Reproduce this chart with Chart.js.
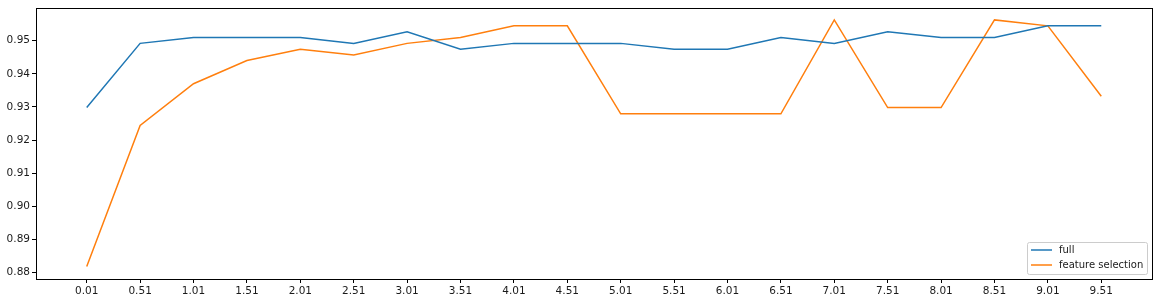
<!DOCTYPE html>
<html>
<head>
<meta charset="utf-8">
<script src="https://cdn.jsdelivr.net/npm/chart.js@4"></script>
<style>
  html, body { margin: 0; padding: 0; background: #fff; }
  #wrap { width: 1159px; height: 303px; }
</style>
</head>
<body>
<div id="wrap"><canvas id="chart" width="1159" height="303"></canvas></div>
<script>
const xLabels = ['0.01', '0.51', '1.01', '1.51', '2.01', '2.51', '3.01', '3.51', '4.01', '4.51',
    '5.01', '5.51', '6.01', '6.51', '7.01', '7.51', '8.01', '8.51', '9.01', '9.51'];
const fullScores = [0.9298, 0.9492, 0.9510, 0.9510, 0.9510, 0.9492, 0.9527, 0.9474, 0.9492, 0.9492,
    0.9492, 0.9474, 0.9474, 0.9510, 0.9492, 0.9527, 0.9510, 0.9510, 0.9545, 0.9545];
const selectionScores = [0.8818, 0.9244, 0.9370, 0.9440, 0.9474, 0.9457, 0.9492, 0.9510, 0.9545, 0.9545,
    0.9279, 0.9279, 0.9279, 0.9279, 0.9563, 0.9298, 0.9298, 0.9563, 0.9545, 0.9332];
const yTicks = [0.88, 0.89, 0.90, 0.91, 0.92, 0.93, 0.94, 0.95];

const font = { family: 'DejaVu Sans', size: 10.5 };

// matplotlib style legend, lower right inside the axes
const legendBox = {
    id: 'legendBox',
    afterDraw(chart) {
        const ctx = chart.ctx;
        const area = chart.chartArea;
        const w = 120, h = 32;
        const x = area.right - 5 - w;
        const y = area.bottom - 5 - h;
        ctx.save();
        ctx.beginPath();
        ctx.roundRect(x + 0.5, y + 0.5, w, h, 2);
        ctx.fillStyle = 'rgba(255,255,255,0.8)';
        ctx.fill();
        ctx.strokeStyle = '#cccccc';
        ctx.lineWidth = 1;
        ctx.stroke();
        ctx.font = '10px "DejaVu Sans"';
        ctx.textBaseline = 'middle';
        chart.data.datasets.forEach((ds, i) => {
            const ry = y + 8 + i * 15;
            ctx.beginPath();
            ctx.moveTo(x + 4, ry);
            ctx.lineTo(x + 25, ry);
            ctx.strokeStyle = ds.borderColor;
            ctx.lineWidth = 1.5;
            ctx.stroke();
            ctx.fillStyle = '#1a1a1a';
            ctx.fillText(ds.label, x + 32, ry);
        });
        ctx.restore();
    }
};

const frame = {
    id: 'frame',
    afterDatasetsDraw(chart) {
        const { ctx, chartArea: a } = chart;
        ctx.save();
        ctx.strokeStyle = '#000';
        ctx.lineWidth = 1;
        ctx.strokeRect(Math.round(a.left) + 0.5, Math.round(a.top) + 0.5,
            Math.round(a.right - a.left), Math.round(a.bottom - a.top));
        ctx.restore();
    }
};

new Chart(document.getElementById('chart').getContext('2d'), {
    type: 'line',
    data: {
        datasets: [{
            label: 'full',
            data: fullScores.map((v, i) => ({ x: i, y: v })),
            borderColor: '#1f77b4',
            borderWidth: 1.5,
            pointRadius: 0,
            tension: 0
        }, {
            label: 'feature selection',
            data: selectionScores.map((v, i) => ({ x: i, y: v })),
            borderColor: '#ff7f0e',
            borderWidth: 1.5,
            pointRadius: 0,
            tension: 0
        }]
    },
    options: {
        responsive: false,
        animation: false,
        layout: { padding: { top: 7, right: 7, left: 0, bottom: 0 } },
        plugins: {
            legend: { display: false },
            tooltip: { enabled: false }
        },
        scales: {
            x: {
                type: 'linear',
                min: -0.95,
                max: xLabels.length - 1 + 0.95,
                afterBuildTicks: scale => { scale.ticks = xLabels.map((l, i) => ({ value: i })); },
                afterFit: scale => { scale.height = 24; },
                grid: { drawOnChartArea: false, tickLength: 4, color: '#000' },
                border: { display: false },
                ticks: {
                    autoSkip: false,
                    maxRotation: 0,
                    padding: 2,
                    color: '#1a1a1a',
                    font: font,
                    callback: v => xLabels[v]
                }
            },
            y: {
                min: 0.878,
                max: 0.9598,
                afterBuildTicks: scale => { scale.ticks = yTicks.map(v => ({ value: v })); },
                afterFit: scale => { scale.width = 36; },
                grid: { drawOnChartArea: false, tickLength: 4, color: '#000' },
                border: { display: false },
                ticks: {
                    padding: 2,
                    color: '#1a1a1a',
                    font: font,
                    callback: v => v.toFixed(2)
                }
            }
        }
    },
    plugins: [frame, legendBox]
});
</script>
</body>
</html>
